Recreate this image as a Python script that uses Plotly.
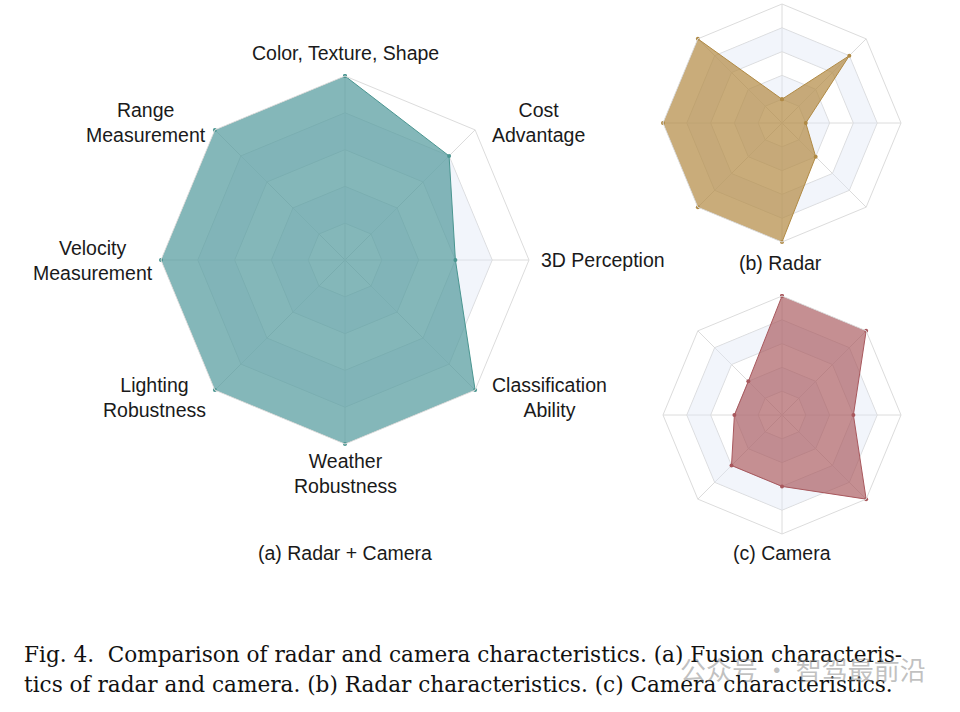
import math
import plotly.graph_objects as go

# ---------------- data ----------------
categories = [
    "Color, Texture, Shape",
    "Cost<br>Advantage",
    "3D Perception",
    "Classification<br>Ability",
    "Weather<br>Robustness",
    "Lighting<br>Robustness",
    "Velocity<br>Measurement",
    "Range<br>Measurement",
]
fusion_values = [5, 4, 3, 5, 5, 5, 5, 5]
radar_values = [1, 4, 1, 2, 5, 5, 5, 5]
camera_values = [5, 5, 3, 5, 3, 3, 2, 2]
grid_levels = [1, 2, 3, 4, 5]
panel_titles = ["(a) Radar + Camera", "(b) Radar", "(c) Camera"]
caption_lines = [
    "Fig. 4.  Comparison of radar and camera characteristics. (a) Fusion characteris-",
    "tics of radar and camera. (b) Radar characteristics. (c) Camera characteristics.",
]
watermark = "公众号 · 智驾最前沿"

# ---------------- styling ----------------
W, H = 960, 712
GRID = "#dcdcdc"
BAND = "rgba(225,230,246,0.42)"
SANS = "Liberation Sans, Arial, Helvetica, sans-serif"
SERIF = "DejaVu Serif, Liberation Serif, serif"
TXT = "#1a1a1a"


def px(x, y):
    """screen pixel -> paper fraction"""
    return x / W, 1 - y / H


panels = [
    # (subplot, values, fill, line, center_x, center_y, radius, labelled)
    ("polar", fusion_values, "rgba(85,155,158,0.72)", "#4a9590", 345, 260, 184, True),
    ("polar2", radar_values, "rgba(180,140,70,0.72)", "#b08a45", 782, 123, 119, False),
    ("polar3", camera_values, "rgba(170,90,95,0.68)", "#a8585d", 782, 415, 119, False),
]

fig = go.Figure()

closed_theta = categories + [categories[0]]
reverse_theta = [categories[0]] + categories[:0:-1] + [categories[0]]

for sp, vals, fill, line, cx, cy, rad, labelled in panels:
    # alternating background bands (ring 1-2 and ring 3-4)
    for i in range(1, len(grid_levels), 2):
        lo, hi = grid_levels[i - 1], grid_levels[i]
        fig.add_trace(go.Scatterpolar(
            r=[hi] * len(closed_theta) + [lo] * len(reverse_theta),
            theta=closed_theta + reverse_theta,
            mode="lines", line=dict(width=0, color="rgba(0,0,0,0)"),
            fill="toself", fillcolor=BAND, hoverinfo="skip",
            showlegend=False, subplot=sp,
        ))
    fig.add_trace(go.Scatterpolar(
        r=vals + [vals[0]],
        theta=closed_theta,
        mode="lines+markers",
        line=dict(color=line, width=1),
        marker=dict(size=4, color=line),
        fill="toself", fillcolor=fill,
        showlegend=False, subplot=sp,
    ))

layout = dict(
    width=W, height=H,
    paper_bgcolor="white", plot_bgcolor="white",
    margin=dict(l=0, r=0, t=0, b=0),
    showlegend=False,
)

for sp, vals, fill, line, cx, cy, rad, labelled in panels:
    x0, y1 = px(cx - rad, cy - rad)
    x1, y0 = px(cx + rad, cy + rad)
    layout[sp] = dict(
        domain=dict(x=[max(0, x0), min(1, x1)], y=[max(0, y0), min(1, y1)]),
        gridshape="linear",
        bgcolor="white",
        radialaxis=dict(
            range=[0, grid_levels[-1]], tickvals=grid_levels,
            showticklabels=False, ticks="", showline=False,
            gridcolor=GRID, gridwidth=1,
        ),
        angularaxis=dict(
            rotation=90, direction="clockwise",
            categoryorder="array", categoryarray=categories,
            showticklabels=False, ticks="",
            showline=True, linecolor=GRID, linewidth=1,
            gridcolor=GRID, gridwidth=1,
        ),
    )

fig.update_layout(**layout)

annotations = []

# category labels for the main chart, centred multi-line text placed around the polygon
sp, vals, fill, line, cx, cy, rad, labelled = panels[0]
gap = 10
n = len(categories)
for i, cat in enumerate(categories):
    ang = math.radians(90 - i * 360 / n)
    c, s = math.cos(ang), math.sin(ang)
    lx = cx + (rad + gap) * c
    ly = cy - (rad + gap) * s
    if c > 0.1:
        xa = "left"
        lx += 8 if abs(s) > 0.1 else 0
    elif c < -0.1:
        xa = "right"
        lx += 4 if abs(s) < 0.1 else 0
    else:
        xa = "center"
    if s > 0.9:
        ya = "bottom"
    elif s < -0.9:
        ya = "top"
        ly -= 6
    else:
        ya = "middle"
    x, y = px(lx, ly)
    annotations.append(dict(
        text=cat, x=x, y=y, xref="paper", yref="paper", showarrow=False,
        xanchor=xa, yanchor=ya, align="center",
        font=dict(family=SANS, size=19.5, color=TXT),
    ))

title_pos = [(345, 553), (780, 263), (782, 553)]
for t, (tx, ty) in zip(panel_titles, title_pos):
    x, y = px(tx, ty)
    annotations.append(dict(
        text=t, x=x, y=y, xref="paper", yref="paper",
        showarrow=False, xanchor="center", yanchor="middle",
        font=dict(family=SANS, size=19.5, color=TXT),
    ))
for i, line_txt in enumerate(caption_lines):
    x, y = px(22, 654 + 30 * i)
    annotations.append(dict(
        text=line_txt, x=x, y=y, xref="paper", yref="paper", showarrow=False,
        xanchor="left", yanchor="middle",
        font=dict(family=SERIF, size=21.6, color="#111111"),
    ))
x, y = px(928, 668)
annotations.append(dict(
    text=watermark, x=x, y=y, xref="paper", yref="paper",
    showarrow=False, xanchor="right", yanchor="middle",
    font=dict(family="Noto Sans CJK SC", size=26, color="rgba(140,140,140,0.55)"),
))
fig.update_layout(annotations=annotations)

fig.write_html(
    "out.html",
    config={"displayModeBar": False},
    post_script="document.body.style.margin='0';",
)
